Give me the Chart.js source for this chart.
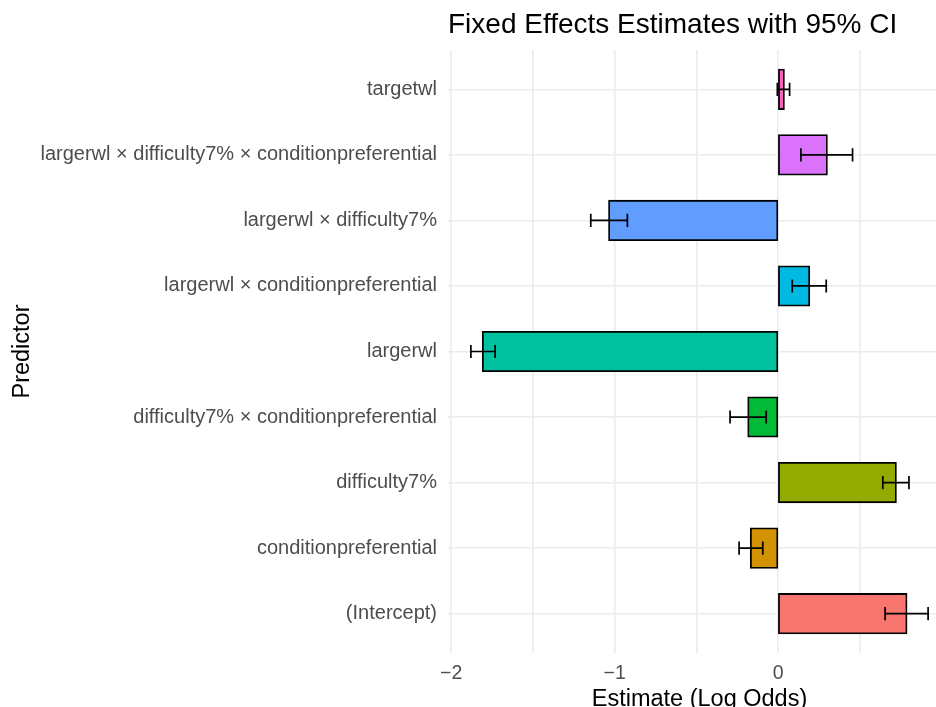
<!DOCTYPE html>
<html>
<head>
<meta charset="utf-8">
<script src="https://cdn.jsdelivr.net/npm/chart.js@4.4.1/dist/chart.umd.min.js"></script>
<style>
  html, body { margin: 0; padding: 0; background: #ffffff; overflow: hidden; }
  #wrap { width: 951px; height: 720px; position: relative; }
</style>
</head>
<body>
<div id="wrap"><canvas id="c"></canvas></div>
<script>
// Model terms, listed from the bottom of the plot to the top
const predictors = [
  '(Intercept)',
  'conditionpreferential',
  'difficulty7%',
  'difficulty7% × conditionpreferential',
  'largerwl',
  'largerwl × conditionpreferential',
  'largerwl × difficulty7%',
  'largerwl × difficulty7% × conditionpreferential',
  'targetwl'
];
// Fixed-effect estimates (log odds) and 95% confidence limits
const estimates = [0.785, -0.167, 0.72, -0.183, -1.806, 0.19, -1.034, 0.298, 0.035];
const ciLower   = [0.654, -0.239, 0.64, -0.294, -1.879, 0.086, -1.146, 0.139, -0.005];
const ciUpper   = [0.917, -0.094, 0.80, -0.073, -1.731, 0.294, -0.922, 0.455, 0.07];
// One fill per term
const fills = ['#F8766D', '#D39200', '#93AA00', '#00BA38', '#00C19F', '#00B9E3', '#619CFF', '#DB72FB', '#FF61C3'];
// Axis breaks (major and minor)
const xBreaks = [-2, -1.5, -1, -0.5, 0, 0.5];

const FONT = '"Liberation Sans", Arial, Helvetica, sans-serif';
const GRID = '#EBEBEB';

// Horizontal whiskers with end caps for the confidence intervals
const errorBars = {
  id: 'errorBars',
  afterDatasetsDraw(chart) {
    const xs = chart.scales.x, ys = chart.scales.y, ctx = chart.ctx;
    ctx.save();
    ctx.strokeStyle = '#000000';
    ctx.lineWidth = 1.7;
    ctx.lineCap = 'butt';
    predictors.forEach((_, i) => {
      const y = ys.getPixelForValue(i);
      const y0 = ys.getPixelForValue(i - 0.1), y1 = ys.getPixelForValue(i + 0.1);
      const xl = xs.getPixelForValue(ciLower[i]), xh = xs.getPixelForValue(ciUpper[i]);
      ctx.beginPath();
      ctx.moveTo(xl, y); ctx.lineTo(xh, y);
      ctx.moveTo(xl, y0); ctx.lineTo(xl, y1);
      ctx.moveTo(xh, y0); ctx.lineTo(xh, y1);
      ctx.stroke();
    });
    ctx.restore();
  }
};

new Chart(document.getElementById('c'), {
  type: 'bar',
  data: {
    datasets: [{
      data: predictors.map((p, i) => ({ x: estimates[i], y: i })),
      backgroundColor: fills,
      borderColor: '#000000',
      borderWidth: 1.8,
      borderSkipped: false,
      inflateAmount: 0.9,
      barPercentage: 0.6,
      categoryPercentage: 1.0
    }]
  },
  options: {
    indexAxis: 'y',
    responsive: true,
    maintainAspectRatio: false,
    animation: false,
    devicePixelRatio: 1,
    layout: { padding: 0 },
    plugins: {
      legend: { display: false },
      tooltip: { enabled: false },
      title: {
        display: true,
        text: 'Fixed Effects Estimates with 95% CI',
        align: 'start',
        fullSize: false,
        color: '#000000',
        font: { family: FONT, size: 28, weight: 'normal', lineHeight: 1.2 },
        padding: { top: 8, bottom: 8.4 }
      }
    },
    scales: {
      x: {
        type: 'linear',
        min: -2.019,
        max: 1.057,
        afterBuildTicks: s => { s.ticks = xBreaks.map(v => ({ value: v })); },
        afterFit: s => { s.height = 67; },
        border: { display: false },
        grid: { color: GRID, lineWidth: 1.6, drawTicks: false },
        ticks: {
          color: '#4D4D4D',
          font: { family: FONT, size: 19.5 },
          padding: 9,
          maxRotation: 0,
          autoSkip: false,
          callback: v => Number.isInteger(v) ? (v < 0 ? '\u2212' + Math.abs(v) : String(v)) : ''
        },
        title: {
          display: true,
          text: 'Estimate (Log Odds)',
          color: '#000000',
          font: { family: FONT, size: 23.5, lineHeight: 1 },
          padding: { top: 0, bottom: 8.5 }
        }
      },
      y: {
        type: 'linear',
        offset: false,
        min: -0.6,
        max: 8.6,
        afterBuildTicks: s => { s.ticks = predictors.map((_, i) => ({ value: i })); },
        afterFit: s => { s.width = 448; },
        border: { display: false },
        grid: { color: GRID, lineWidth: 1.6, drawTicks: false, offset: false },
        ticks: {
          color: '#4D4D4D',
          font: { family: FONT, size: 20 },
          padding: 11,
          autoSkip: false,
          callback: v => predictors[v] ?? ''
        },
        title: {
          display: true,
          text: 'Predictor',
          color: '#000000',
          font: { family: FONT, size: 23.5, lineHeight: 1 },
          padding: { top: 11 }
        }
      }
    }
  },
  plugins: [errorBars]
});
</script>
</body>
</html>
